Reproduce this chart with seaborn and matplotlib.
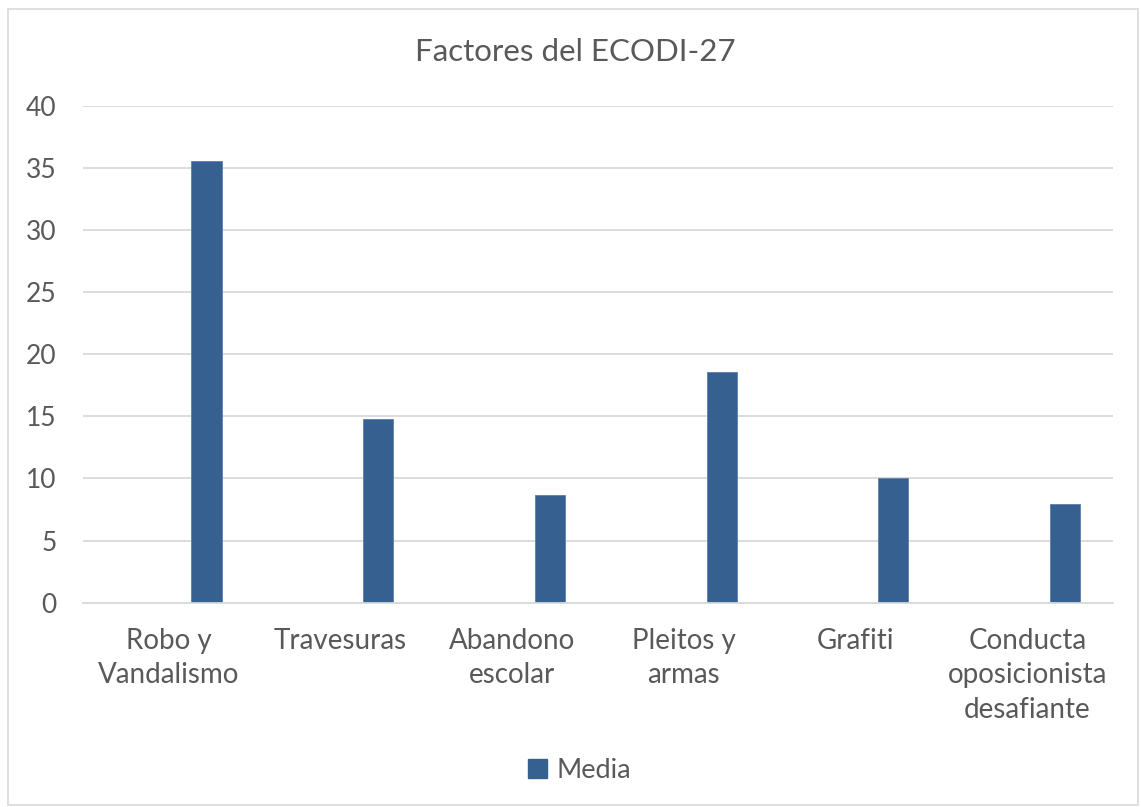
import pandas as pd
import matplotlib.pyplot as plt
import matplotlib.patches as mpatches
import seaborn as sns

# data
factores = ["Robo y\nVandalismo", "Travesuras", "Abandono\nescolar",
            "Pleitos y\narmas", "Grafiti", "Conducta\noposicionista\ndesafiante"]
media = [35.6, 14.8, 8.65, 18.6, 10.0, 7.95]

df = pd.DataFrame({"factor": factores, "valor": media, "serie": "Media"})
# empty first series (Excel leaves a slot for it, bars sit to the right)
df_blank = pd.DataFrame({"factor": factores, "valor": [float("nan")] * 6, "serie": "_vacio"})
df = pd.concat([df_blank, df], ignore_index=True)

sns.set_style("white")
plt.rcParams["font.family"] = ["Lato", "DejaVu Sans"]

gris = "#595959"
azul = "#35608F"

fig = plt.figure(figsize=(11.41, 8.07), dpi=100)
ax = fig.add_axes([0.0727, 0.2532, 0.9028, 0.6155])

sns.barplot(data=df, x="factor", y="valor", hue="serie", hue_order=["_vacio", "Media"],
            palette={"_vacio": azul, "Media": azul}, width=0.88, gap=0.6,
            dodge=True, legend=False, ax=ax, saturation=1,
            edgecolor="#5B7FAA", linewidth=0.6)

ax.set_ylim(0, 40)
ax.set_yticks(range(0, 41, 5))
ax.set_xlim(-0.5, 5.5)
ax.yaxis.grid(True, color="#D9D9D9", linewidth=1.3)
ax.set_axisbelow(True)
for s in ["left", "right", "top"]:
    ax.spines[s].set_visible(False)
ax.spines["bottom"].set_color("#D9D9D9")
ax.spines["bottom"].set_linewidth(1.3)
ax.set_xlabel("")
ax.set_ylabel("")
ax.tick_params(axis="y", length=0, pad=19, labelsize=19, labelcolor=gris)
ax.tick_params(axis="x", length=0, pad=18, labelsize=20, labelcolor=gris)
for t in ax.get_xticklabels():
    t.set_linespacing(1.42)

fig.text(0.504, 0.935, "Factores del ECODI-27", ha="center", va="center",
         fontsize=22.5, color=gris)

handle = mpatches.Patch(facecolor=azul, edgecolor=azul, label="Media")
fig.legend(handles=[handle], loc="center", bbox_to_anchor=(0.508, 0.045),
           frameon=False, fontsize=19.5, handlelength=0.7, handleheight=0.7,
           handletextpad=0.35, labelcolor=gris)

# outer chart border
fig.patches.append(mpatches.Rectangle((0.007, 0.003), 0.99, 0.986, transform=fig.transFigure,
                                      fill=False, edgecolor="#D9D9D9", linewidth=1.2))

fig.savefig("out.png", dpi=100)
